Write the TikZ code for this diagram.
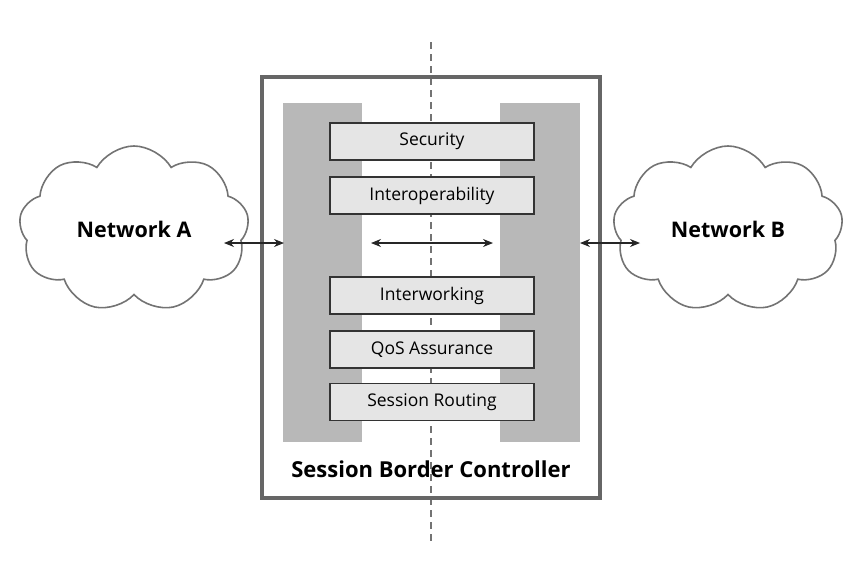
\documentclass[tikz,border=0pt]{standalone}
\usepackage{fontspec}
\setmainfont{Open Sans}
\usetikzlibrary{shapes.symbols,arrows.meta}
\begin{document}
\begin{tikzpicture}[x=1pt,y=-1pt,
  func/.style={draw=black!80,fill=black!10,line width=1.3pt,minimum width=204pt,minimum height=37pt,inner sep=0pt,font=\fontsize{17.5}{20}\selectfont},
  bar/.style={fill=black!28,draw=none},
  conn/.style={{Stealth[length=10pt,width=8pt]}-{Stealth[length=10pt,width=8pt]},line width=1.1pt,black!85},
  net/.style={cloud,cloud puffs=9,cloud puff arc=120,aspect=1.4,draw=black!55,line width=1.6pt,fill=white,minimum width=230pt,minimum height=166pt,inner sep=0pt,font=\bfseries\fontsize{21.5}{24}\selectfont}]
\useasboundingbox (0,0) rectangle (866,576);
\draw[black!55,line width=1.2pt,dash pattern=on 7pt off 5pt] (431,42) -- (431,545);
\fill[bar] (283,103) rectangle (362,442);
\fill[bar] (500,103) rectangle (580,442);
\draw[black!60,line width=3.5pt] (262,77) rectangle (600,498);
\node[func] (sec) at (432,141.5) {Security};
\node[func] (iop) at (432,195.5) {Interoperability};
\node[func] (iw) at (432,295.5) {Interworking};
\node[func] (qos) at (432,349.5) {QoS Assurance};
\node[func] (sr) at (432,402) {Session Routing};
\node[font=\bfseries\fontsize{22}{26}\selectfont] (sbc) at (431,469) {Session Border Controller};
\node[net] (na) at (134,229) {Network A};
\node[net] (nb) at (728,229) {Network B};
\coordinate (lb) at (284,243);
\coordinate (rb) at (580,243);
\coordinate (m1) at (371,243);
\coordinate (m2) at (493,243);
\draw[conn] (224,243) -- (lb);
\draw[conn] (rb) -- (640,243);
\draw[conn] (m1) -- (m2);
\end{tikzpicture}
\end{document}
